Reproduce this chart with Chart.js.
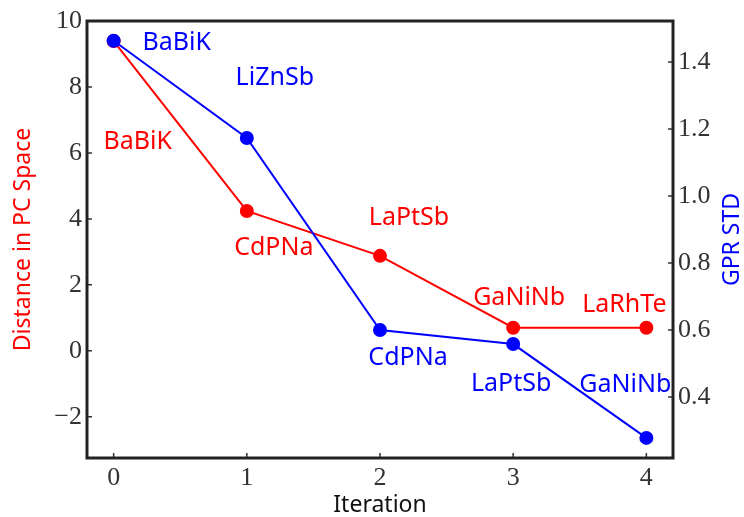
<!DOCTYPE html>
<html>
<head>
<meta charset="utf-8">
<script src="https://cdn.jsdelivr.net/npm/chart.js@4"></script>
<style>
  html, body { margin: 0; padding: 0; background: #fff; }
  #wrap { width: 744px; height: 517px; }
</style>
</head>
<body>
<div id="wrap"><canvas id="chart" width="744" height="517"></canvas></div>
<script>
// ===== Data =====
const iterations = [0, 1, 2, 3, 4];
const distance = [9.39, 4.24, 2.88, 0.70, 0.70];
const gprStd = [1.463, 1.173, 0.600, 0.558, 0.278];
const distanceLabels = ['BaBiK', 'CdPNa', 'LaPtSb', 'GaNiNb', 'LaRhTe'];
const stdLabels = ['BaBiK', 'LiZnSb', 'CdPNa', 'LaPtSb', 'GaNiNb'];
const leftTicks = [-2, 0, 2, 4, 6, 8, 10];
const rightTicks = [0.4, 0.6, 0.8, 1.0, 1.2, 1.4];
const xTicks = [0, 1, 2, 3, 4];

// label offsets from their point (px)
const redOffsets = [[24, 101], [27, 37], [29, -38], [6, -30], [-22, -23]];
const blueOffsets = [[63, 2], [28, -60], [28, 28], [-2, 40], [-21, -53]];

const RED = '#ff0000';
const BLUE = '#0000ff';
const tickFont = { family: "'Liberation Serif', serif", size: 26 };
const labelFont = "25px 'Noto Sans', sans-serif";

const decorations = {
  id: 'decorations',
  afterDraw(chart) {
    const { ctx, chartArea: a, scales } = chart;
    const { x, y, y2 } = scales;
    ctx.save();

    // inward ticks
    ctx.strokeStyle = '#333';
    ctx.lineWidth = 1.5;
    ctx.beginPath();
    xTicks.forEach((v) => {
      const px = x.getPixelForValue(v);
      ctx.moveTo(px, a.bottom); ctx.lineTo(px, a.bottom - 5);
    });
    leftTicks.forEach((v) => {
      const py = y.getPixelForValue(v);
      ctx.moveTo(a.left, py); ctx.lineTo(a.left + 5, py);
    });
    rightTicks.forEach((v) => {
      const py = y2.getPixelForValue(v);
      ctx.moveTo(a.right, py); ctx.lineTo(a.right - 5, py);
    });
    ctx.stroke();

    // frame
    ctx.strokeStyle = '#222';
    ctx.lineWidth = 3;
    ctx.strokeRect(a.left, a.top, a.right - a.left, a.bottom - a.top);

    // point labels
    ctx.font = labelFont;
    ctx.textAlign = 'center';
    ctx.textBaseline = 'middle';
    ctx.fillStyle = RED;
    distanceLabels.forEach((t, i) => {
      const px = x.getPixelForValue(iterations[i]);
      const py = y.getPixelForValue(distance[i]);
      ctx.fillText(t, px + redOffsets[i][0], py + redOffsets[i][1]);
    });
    ctx.fillStyle = BLUE;
    stdLabels.forEach((t, i) => {
      const px = x.getPixelForValue(iterations[i]);
      const py = y2.getPixelForValue(gprStd[i]);
      ctx.fillText(t, px + blueOffsets[i][0], py + blueOffsets[i][1]);
    });

    // right axis title, reading upwards
    ctx.translate(732, (a.top + a.bottom) / 2);
    ctx.rotate(-Math.PI / 2);
    ctx.font = "23px 'Noto Sans', sans-serif";
    ctx.fillText('GPR STD', 0, 0);
    ctx.restore();
  },
};

const fmt = (v) => (v < 0 ? '\u2212' + Math.abs(v) : String(v));

new Chart(document.getElementById('chart'), {
  type: 'line',
  data: {
    datasets: [
      {
        label: 'Distance in PC Space',
        data: iterations.map((it, i) => ({ x: it, y: distance[i] })),
        borderColor: RED,
        backgroundColor: RED,
        borderWidth: 2,
        pointRadius: 6,
        pointHoverRadius: 6,
        yAxisID: 'y',
        order: 2,
      },
      {
        label: 'GPR STD',
        data: iterations.map((it, i) => ({ x: it, y: gprStd[i] })),
        borderColor: BLUE,
        backgroundColor: BLUE,
        borderWidth: 2,
        pointRadius: 6,
        pointHoverRadius: 6,
        yAxisID: 'y2',
        order: 1,
      },
    ],
  },
  options: {
    responsive: false,
    animation: false,
    layout: { padding: { top: 21 }, autoPadding: false },
    plugins: { legend: { display: false }, tooltip: { enabled: false } },
    scales: {
      x: {
        type: 'linear',
        min: -0.2,
        max: 4.2,
        afterBuildTicks: (s) => { s.ticks = xTicks.map((v) => ({ value: v })); },
        afterFit: (s) => { s.height = 59; },
        grid: { display: false, drawTicks: false },
        border: { display: false },
        ticks: { font: tickFont, color: '#333', padding: 5, maxRotation: 0 },
        title: {
          display: true,
          text: 'Iteration',
          color: '#111',
          font: { family: "'Noto Sans', sans-serif", size: 23, lineHeight: 1 },
          padding: { top: 0, bottom: 0 },
        },
      },
      y: {
        position: 'left',
        min: -3.25,
        max: 10,
        afterBuildTicks: (s) => { s.ticks = leftTicks.map((v) => ({ value: v })); },
        afterFit: (s) => { s.width = 87; },
        grid: { display: false, drawTicks: false },
        border: { display: false },
        ticks: { font: tickFont, color: '#333', padding: 5, callback: fmt },
        title: {
          display: true,
          text: 'Distance in PC Space',
          color: RED,
          font: { family: "'Noto Sans', sans-serif", size: 23, lineHeight: 1 },
          padding: { top: 12, bottom: 0 },
        },
      },
      y2: {
        position: 'right',
        min: 0.218,
        max: 1.522,
        afterBuildTicks: (s) => { s.ticks = rightTicks.map((v) => ({ value: v })); },
        afterFit: (s) => { s.width = 71; },
        grid: { display: false, drawTicks: false },
        border: { display: false },
        ticks: { font: tickFont, color: '#333', padding: 5, callback: (v) => v.toFixed(1) },
      },
    },
  },
  plugins: [decorations],
});
</script>
</body>
</html>
